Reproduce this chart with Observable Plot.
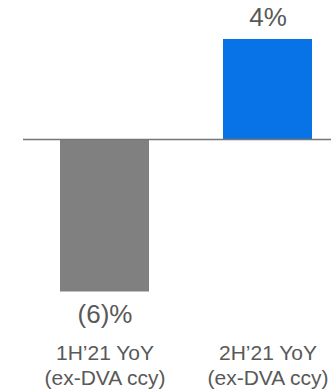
<!DOCTYPE html>
<html>
<head>
<meta charset="utf-8">
<script src="https://cdn.jsdelivr.net/npm/d3@7"></script>
<script src="https://cdn.jsdelivr.net/npm/@observablehq/plot@0.6"></script>
<style>
  html, body { margin: 0; padding: 0; background: #fff; }
  #chart svg { display: block; }
</style>
</head>
<body>
<div id="chart"></div>
<script>
const categories = ["1H’21 YoY", "2H’21 YoY"];
const subLabels = ["(ex-DVA ccy)", "(ex-DVA ccy)"];
const values = [-6.1, 4];
const valueLabels = ["(6)%", "4%"];
const colors = ["#808080", "#0873E6"];

const data = categories.map((c, i) => ({
  category: c,
  sub: subLabels[i],
  value: values[i],
  label: valueLabels[i],
  color: colors[i]
}));
const subOf = new Map(data.map(d => [d.category, d.sub]));

const font = "'Liberation Sans', Arial, sans-serif";
const textColor = "#595959";

const chart = Plot.plot({
  width: 331,
  height: 390,
  marginLeft: 23,
  marginRight: 0,
  marginTop: 39,
  marginBottom: 98.5,
  style: { fontFamily: font, background: "#fff" },
  x: { type: "band", domain: categories, paddingInner: 0.457, paddingOuter: 0.1715, align: 0.66, axis: null },
  y: { domain: [-6.1, 4], axis: null },
  marks: [
    Plot.barY(data, { x: "category", y: "value", fill: "color" }),
    Plot.ruleY([0], { stroke: "#767676", strokeWidth: 1.7 }),
    Plot.text(data.filter(d => d.value >= 0), {
      x: "category", y: "value", text: "label",
      lineAnchor: "bottom", dy: -14, fontSize: 26, fill: textColor
    }),
    Plot.text(data.filter(d => d.value < 0), {
      x: "category", y: "value", text: "label",
      lineAnchor: "top", dy: 13, fontSize: 26, fill: textColor
    }),
    Plot.axisX({
      anchor: "bottom",
      tickSize: 0,
      tickPadding: 51,
      tickFormat: c => c + "\n" + subOf.get(c),
      lineHeight: 1.16,
      fontSize: 21,
      fill: textColor,
      label: null
    })
  ]
});
document.getElementById("chart").appendChild(chart);
</script>
</body>
</html>
